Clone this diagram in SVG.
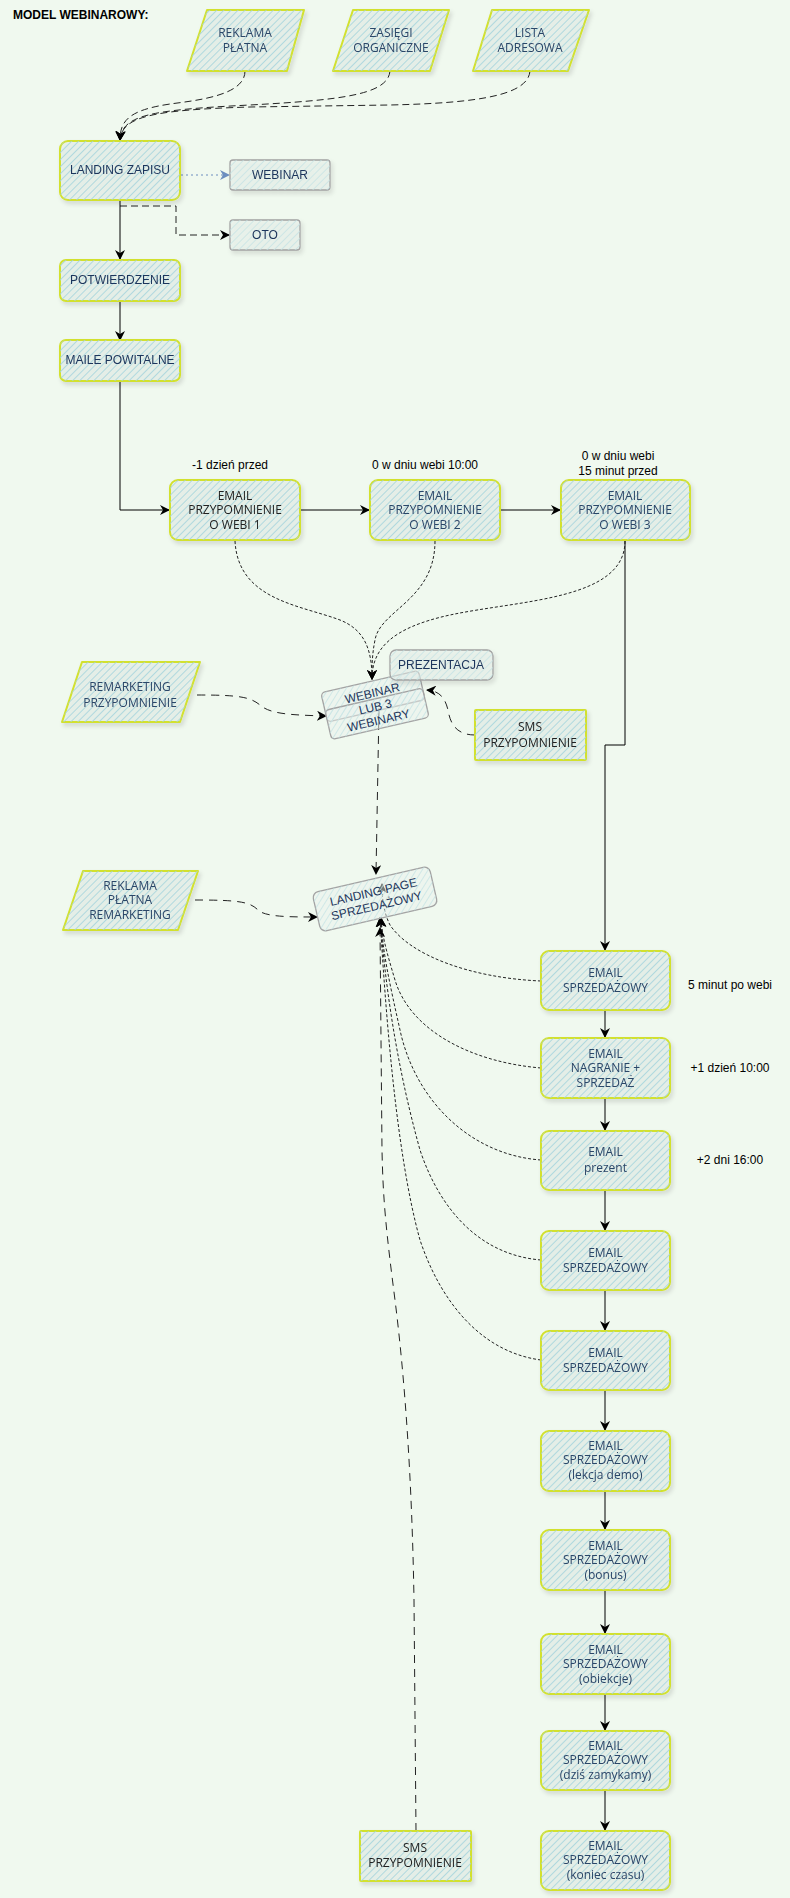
<svg xmlns="http://www.w3.org/2000/svg" width="790" height="1898" viewBox="0 0 790 1898">
<defs>
<pattern id="hatch" width="5" height="5" patternUnits="userSpaceOnUse" patternTransform="rotate(45)">
<line x1="0" y1="0" x2="0" y2="5" stroke="#a3d3dc" stroke-width="1.6"/>
</pattern>
<pattern id="hatchg" width="5" height="5" patternUnits="userSpaceOnUse" patternTransform="rotate(45)">
<line x1="0" y1="0" x2="0" y2="5" stroke="#c3e2e4" stroke-width="1.4"/>
</pattern>
<filter id="sh" x="-10%" y="-10%" width="130%" height="140%">
<feDropShadow dx="2" dy="3" stdDeviation="2" flood-color="#000" flood-opacity="0.15"/>
</filter>
<marker id="ar" viewBox="0 0 10 10" refX="9" refY="5" markerWidth="10" markerHeight="10" markerUnits="userSpaceOnUse" orient="auto">
<path d="M0,0 L10,5 L0,10 L3,5 z" fill="#000"/>
</marker>
<marker id="arb" viewBox="0 0 10 10" refX="9" refY="5" markerWidth="10" markerHeight="10" markerUnits="userSpaceOnUse" orient="auto">
<path d="M0,0 L10,5 L0,10 L3,5 z" fill="#6c8ebf"/>
</marker>
<style>
.bg{fill:#f0f9ef}
.ybox{fill:#e4efea;fill-opacity:0.55;stroke:#d2e12e;stroke-width:2}
.yh{fill:url(#hatch);stroke:none}
.gbox{fill:#eaf2ee;fill-opacity:0.5;stroke:#a3a3a3;stroke-width:1.3}
.gh{fill:url(#hatchg);stroke:none}
.t{font-family:"Liberation Sans",Arial,sans-serif;font-size:12px;fill:#1d355b;text-anchor:middle}
.o{font-family:"Open Sans","Noto Sans",sans-serif;font-size:12px;fill:#2c4668;text-anchor:middle}
.ok{font-family:"Open Sans","Noto Sans",sans-serif;font-size:12px;fill:#222;text-anchor:middle}
.lbl{font-family:"Liberation Sans",Arial,sans-serif;font-size:12px;fill:#000;text-anchor:middle}
.title{font-family:"Liberation Sans",Arial,sans-serif;font-size:12px;font-weight:bold;fill:#000}
.solid{fill:none;stroke:#000;stroke-width:1}
.dash{fill:none;stroke:#222;stroke-width:1;stroke-dasharray:7 4}
.dash2{fill:none;stroke:#222;stroke-width:1;stroke-dasharray:8 6}
.dot{fill:none;stroke:#222;stroke-width:1;stroke-dasharray:3 2}
.bdot{fill:none;stroke:#6c8ebf;stroke-width:1;stroke-dasharray:2 3}
</style>
</defs>
<rect class="bg" x="0" y="0" width="790" height="1898"/>
<text class="title" x="13" y="19">MODEL WEBINAROWY:</text>

<g id="connectors">
<path class="dash" d="M245,71 C245,95 200,100 170,104 C130,110 120,120 120,140" marker-end="url(#ar)"/>
<path class="dash" d="M390,71 C388,95 340,100 250,105 C150,110 122,115 120,140" marker-end="url(#ar)"/>
<path class="dash" d="M530,71 C528,95 480,103 390,105 L250,107 C150,110 122,117 120,140" marker-end="url(#ar)"/>
<path class="bdot" d="M181,175 L229,175" marker-end="url(#arb)"/>
<path class="dash" d="M120,206 L176,206 L176,235 L229,235" marker-end="url(#ar)"/>
<path class="solid" d="M120,200 L120,259" marker-end="url(#ar)"/>
<path class="solid" d="M120,301 L120,340" marker-end="url(#ar)"/>
<path class="solid" d="M120,381 L120,510 L169,510" marker-end="url(#ar)"/>
<path class="solid" d="M300,510 L369,510" marker-end="url(#ar)"/>
<path class="solid" d="M500,510 L560,510" marker-end="url(#ar)"/>
<path class="solid" d="M625,541 L625,745 L605,745 L605,950" marker-end="url(#ar)"/>
<path class="solid" d="M605,1010 L605,1037" marker-end="url(#ar)"/>
<path class="solid" d="M605,1098 L605,1130" marker-end="url(#ar)"/>
<path class="solid" d="M605,1190 L605,1230" marker-end="url(#ar)"/>
<path class="solid" d="M605,1290 L605,1330" marker-end="url(#ar)"/>
<path class="solid" d="M605,1390 L605,1430" marker-end="url(#ar)"/>
<path class="solid" d="M605,1491 L605,1529" marker-end="url(#ar)"/>
<path class="solid" d="M605,1590 L605,1633" marker-end="url(#ar)"/>
<path class="solid" d="M605,1694 L605,1730" marker-end="url(#ar)"/>
<path class="solid" d="M605,1790 L605,1830" marker-end="url(#ar)"/>
<path class="dot" d="M235,541 C238,600 300,605 340,620 C365,630 372,650 372,679" marker-end="url(#ar)"/>
<path class="dot" d="M435,541 C435,600 380,610 375,640 C372,655 372,665 372,679" marker-end="url(#ar)"/>
<path class="dot" d="M625,541 C625,600 520,600 450,615 C390,628 372,650 372,679" marker-end="url(#ar)"/>
<path class="dash2" d="M197,695 C240,695 250,697 260,705 C270,714 290,715 326,716" marker-end="url(#ar)"/>
<path class="dash2" d="M475,735 C455,735 450,722 448,710 C445,698 440,691 427,690" marker-end="url(#ar)"/>
<path class="dash2" d="M379,708 L376,874" marker-end="url(#ar)"/>
<path class="dash2" d="M195,900 C240,900 250,902 258,910 C265,917 290,917 317,917" marker-end="url(#ar)"/>
<path class="dot" d="M541,981 C470,978 410,955 390,925 C384,913 382,900 382,884" marker-end="url(#ar)"/>
<path class="dot" d="M541,1068 C470,1062 410,1030 395,980 C386,950 382,935 381,918" marker-end="url(#ar)"/>
<path class="dot" d="M541,1160 C470,1155 415,1100 400,1030 C390,985 382,950 381,918" marker-end="url(#ar)"/>
<path class="dot" d="M541,1260 C480,1255 440,1210 420,1150 C395,1060 385,980 380,918" marker-end="url(#ar)"/>
<path class="dot" d="M541,1360 C480,1352 440,1300 420,1240 C395,1150 385,1000 380,918" marker-end="url(#ar)"/>
<path class="dash2" d="M416,1831 L414,1600 C412,1480 405,1380 395,1300 C386,1230 383,1200 382,1150 L380,928" marker-end="url(#ar)"/>
</g>

<g id="reklama-platna" filter="url(#sh)">
<path class="ybox" d="M207,10 L304,10 L287,71 L187,71 Z" stroke-linejoin="round"/>
<path class="yh" d="M207,10 L304,10 L287,71 L187,71 Z"/>
<text class="o" x="245" y="37">REKLAMA</text>
<text class="o" x="245" y="52">PŁATNA</text>
</g>
<g id="zasiegi" filter="url(#sh)">
<path class="ybox" d="M353,10 L449,10 L430,71 L333,71 Z" stroke-linejoin="round"/>
<path class="yh" d="M353,10 L449,10 L430,71 L333,71 Z"/>
<text class="o" x="391" y="37">ZASIĘGI</text>
<text class="o" x="391" y="52">ORGANICZNE</text>
</g>
<g id="lista" filter="url(#sh)">
<path class="ybox" d="M492,10 L589,10 L568,71 L473,71 Z" stroke-linejoin="round"/>
<path class="yh" d="M492,10 L589,10 L568,71 L473,71 Z"/>
<text class="o" x="530" y="37">LISTA</text>
<text class="o" x="530" y="52">ADRESOWA</text>
</g>

<g id="landing-zapisu" filter="url(#sh)">
<rect class="ybox" x="60" y="141" width="120" height="59" rx="8"/>
<rect class="yh" x="60" y="141" width="120" height="59" rx="8"/>
<text class="t" x="120" y="174">LANDING ZAPISU</text>
</g>
<g id="webinar" filter="url(#sh)">
<rect class="gbox" x="230" y="160" width="100" height="30" rx="3"/>
<rect class="gh" x="230" y="160" width="100" height="30" rx="3"/>
<text class="t" x="280" y="179">WEBINAR</text>
</g>
<g id="oto" filter="url(#sh)">
<rect class="gbox" x="230" y="220" width="70" height="30" rx="3"/>
<rect class="gh" x="230" y="220" width="70" height="30" rx="3"/>
<text class="t" x="265" y="239">OTO</text>
</g>
<g id="potwierdzenie" filter="url(#sh)">
<rect class="ybox" x="60" y="260" width="120" height="41" rx="6"/>
<rect class="yh" x="60" y="260" width="120" height="41" rx="6"/>
<text class="t" x="120" y="284">POTWIERDZENIE</text>
</g>
<g id="maile-powitalne" filter="url(#sh)">
<rect class="ybox" x="60" y="340" width="120" height="41" rx="6"/>
<rect class="yh" x="60" y="340" width="120" height="41" rx="6"/>
<text class="t" x="120" y="364">MAILE POWITALNE</text>
</g>

<text class="lbl" x="230" y="469">-1 dzień przed</text>
<text class="lbl" x="425" y="469">0 w dniu webi 10:00</text>
<text class="lbl" x="618" y="460">0 w dniu webi</text>
<text class="lbl" x="618" y="475">15 minut przed</text>

<g id="email-webi-1" filter="url(#sh)">
<rect class="ybox" x="170" y="480" width="130" height="60" rx="8"/>
<rect class="yh" x="170" y="480" width="130" height="60" rx="8"/>
<text class="ok" x="235" y="500">EMAIL</text>
<text class="ok" x="235" y="514">PRZYPOMNIENIE</text>
<text class="ok" x="235" y="529">O WEBI 1</text>
</g>
<g id="email-webi-2" filter="url(#sh)">
<rect class="ybox" x="370" y="480" width="130" height="60" rx="8"/>
<rect class="yh" x="370" y="480" width="130" height="60" rx="8"/>
<text class="o" x="435" y="500">EMAIL</text>
<text class="o" x="435" y="514">PRZYPOMNIENIE</text>
<text class="o" x="435" y="529">O WEBI 2</text>
</g>
<g id="email-webi-3" filter="url(#sh)">
<rect class="ybox" x="561" y="480" width="129" height="60" rx="8"/>
<rect class="yh" x="561" y="480" width="129" height="60" rx="8"/>
<text class="o" x="625" y="500">EMAIL</text>
<text class="o" x="625" y="514">PRZYPOMNIENIE</text>
<text class="o" x="625" y="529">O WEBI 3</text>
</g>

<g id="remarketing-przypomnienie" filter="url(#sh)">
<path class="ybox" d="M82,662 L200,662 L180,722 L62,722 Z" stroke-linejoin="round"/>
<path class="yh" d="M82,662 L200,662 L180,722 L62,722 Z"/>
<text class="o" x="130" y="691">REMARKETING</text>
<text class="o" x="130" y="707">PRZYPOMNIENIE</text>
</g>

<g id="webinar-lub-3" transform="rotate(-13 375 705)">
<rect class="gbox" x="325" y="681" width="100" height="30" rx="4"/>
<rect class="gh" x="325" y="681" width="100" height="30" rx="4"/>
<rect class="gbox" x="325" y="699" width="100" height="30" rx="4"/>
<rect class="gh" x="325" y="699" width="100" height="30" rx="4"/>
<text class="t" x="375" y="697">WEBINAR</text>
<text class="t" x="375" y="711">LUB 3</text>
<text class="t" x="375" y="725">WEBINARY</text>
</g>
<g id="prezentacja" filter="url(#sh)">
<rect class="gbox" x="390" y="650" width="103" height="30" rx="6"/>
<rect class="gh" x="390" y="650" width="103" height="30" rx="6"/>
<text class="t" x="441" y="669">PREZENTACJA</text>
</g>
<g id="sms-mid" filter="url(#sh)">
<rect class="ybox" x="475" y="710" width="111" height="50" rx="1"/>
<rect class="yh" x="475" y="710" width="111" height="50" rx="1"/>
<text class="ok" x="530" y="731">SMS</text>
<text class="ok" x="530" y="747">PRZYPOMNIENIE</text>
</g>

<g id="reklama-remarketing" filter="url(#sh)">
<path class="ybox" d="M83,871 L198,871 L178,930 L63,930 Z" stroke-linejoin="round"/>
<path class="yh" d="M83,871 L198,871 L178,930 L63,930 Z"/>
<text class="o" x="130" y="890">REKLAMA</text>
<text class="o" x="130" y="904">PŁATNA</text>
<text class="o" x="130" y="919">REMARKETING</text>
</g>
<g id="landing-page" transform="rotate(-13 375 899)">
<rect class="gbox" x="315" y="879" width="120" height="40" rx="6"/>
<rect class="gh" x="315" y="879" width="120" height="40" rx="6"/>
<text class="t" x="375" y="896">LANDING PAGE</text>
<text class="t" x="375" y="910">SPRZEDAŻOWY</text>
</g>

<text class="lbl" x="730" y="989">5 minut po webi</text>
<text class="lbl" x="730" y="1072">+1 dzień 10:00</text>
<text class="lbl" x="730" y="1164">+2 dni 16:00</text>

<g id="es1" filter="url(#sh)">
<rect class="ybox" x="541" y="951" width="129" height="59" rx="8"/>
<rect class="yh" x="541" y="951" width="129" height="59" rx="8"/>
<text class="o" x="605.5" y="977">EMAIL</text>
<text class="o" x="605.5" y="992">SPRZEDAŻOWY</text>
</g>
<g id="es2" filter="url(#sh)">
<rect class="ybox" x="541" y="1038" width="129" height="60" rx="8"/>
<rect class="yh" x="541" y="1038" width="129" height="60" rx="8"/>
<text class="o" x="605.5" y="1058">EMAIL</text>
<text class="o" x="605.5" y="1072">NAGRANIE +</text>
<text class="o" x="605.5" y="1087">SPRZEDAŻ</text>
</g>
<g id="es3" filter="url(#sh)">
<rect class="ybox" x="541" y="1131" width="129" height="59" rx="8"/>
<rect class="yh" x="541" y="1131" width="129" height="59" rx="8"/>
<text class="o" x="605.5" y="1156">EMAIL</text>
<text class="o" x="605.5" y="1172">prezent</text>
</g>
<g id="es4" filter="url(#sh)">
<rect class="ybox" x="541" y="1231" width="129" height="59" rx="8"/>
<rect class="yh" x="541" y="1231" width="129" height="59" rx="8"/>
<text class="o" x="605.5" y="1257">EMAIL</text>
<text class="o" x="605.5" y="1272">SPRZEDAŻOWY</text>
</g>
<g id="es5" filter="url(#sh)">
<rect class="ybox" x="541" y="1331" width="129" height="59" rx="8"/>
<rect class="yh" x="541" y="1331" width="129" height="59" rx="8"/>
<text class="o" x="605.5" y="1357">EMAIL</text>
<text class="o" x="605.5" y="1372">SPRZEDAŻOWY</text>
</g>
<g id="es6" filter="url(#sh)">
<rect class="ybox" x="541" y="1431" width="129" height="60" rx="8"/>
<rect class="yh" x="541" y="1431" width="129" height="60" rx="8"/>
<text class="o" x="605.5" y="1450">EMAIL</text>
<text class="o" x="605.5" y="1464">SPRZEDAŻOWY</text>
<text class="o" x="605.5" y="1479">(lekcja demo)</text>
</g>
<g id="es7" filter="url(#sh)">
<rect class="ybox" x="541" y="1530" width="129" height="60" rx="8"/>
<rect class="yh" x="541" y="1530" width="129" height="60" rx="8"/>
<text class="o" x="605.5" y="1550">EMAIL</text>
<text class="o" x="605.5" y="1564">SPRZEDAŻOWY</text>
<text class="o" x="605.5" y="1579">(bonus)</text>
</g>
<g id="es8" filter="url(#sh)">
<rect class="ybox" x="541" y="1634" width="129" height="60" rx="8"/>
<rect class="yh" x="541" y="1634" width="129" height="60" rx="8"/>
<text class="o" x="605.5" y="1654">EMAIL</text>
<text class="o" x="605.5" y="1668">SPRZEDAŻOWY</text>
<text class="o" x="605.5" y="1683">(obiekcje)</text>
</g>
<g id="es9" filter="url(#sh)">
<rect class="ybox" x="541" y="1731" width="129" height="59" rx="8"/>
<rect class="yh" x="541" y="1731" width="129" height="59" rx="8"/>
<text class="o" x="605.5" y="1750">EMAIL</text>
<text class="o" x="605.5" y="1764">SPRZEDAŻOWY</text>
<text class="o" x="605.5" y="1779">(dziś zamykamy)</text>
</g>
<g id="es10" filter="url(#sh)">
<rect class="ybox" x="541" y="1831" width="129" height="59" rx="8"/>
<rect class="yh" x="541" y="1831" width="129" height="59" rx="8"/>
<text class="o" x="605.5" y="1850">EMAIL</text>
<text class="o" x="605.5" y="1864">SPRZEDAŻOWY</text>
<text class="o" x="605.5" y="1879">(koniec czasu)</text>
</g>
<g id="sms-bottom" filter="url(#sh)">
<rect class="ybox" x="360" y="1831" width="111" height="50" rx="1"/>
<rect class="yh" x="360" y="1831" width="111" height="50" rx="1"/>
<text class="ok" x="415" y="1852">SMS</text>
<text class="ok" x="415" y="1867">PRZYPOMNIENIE</text>
</g>
</svg>
